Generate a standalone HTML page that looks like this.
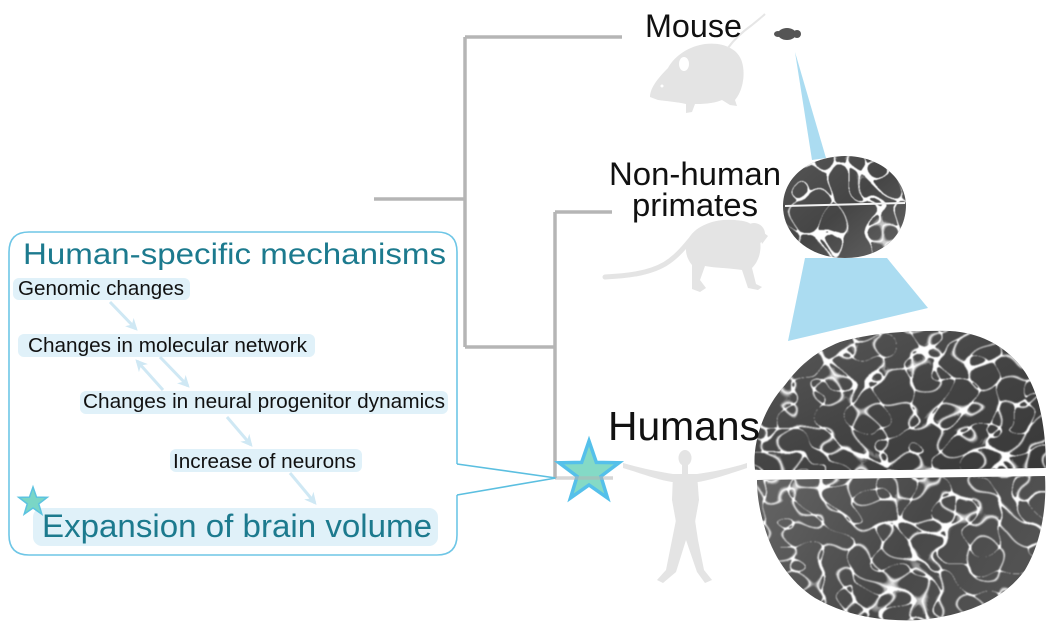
<!DOCTYPE html>
<html><head><meta charset="utf-8"><style>
html,body{margin:0;padding:0;background:#fff;}
svg{display:block;}
text{font-family:"Liberation Sans",Arial,sans-serif;}
</style></head><body>
<svg width="1063" height="638" viewBox="0 0 1063 638" xmlns="http://www.w3.org/2000/svg">
<defs>
<marker id="ah" viewBox="0 0 10 10" refX="8" refY="5" markerWidth="4" markerHeight="4" orient="auto"><path d="M0,0 L10,5 L0,10 L3,5 Z" fill="#cfe8f4"/></marker>
<linearGradient id="bg1" x1="0" y1="0" x2="1" y2="1">
<stop offset="0" stop-color="#5a5a5a"/><stop offset="0.5" stop-color="#444"/><stop offset="1" stop-color="#383838"/>
</linearGradient>
<linearGradient id="bg2" x1="0" y1="0" x2="1" y2="0.3">
<stop offset="0" stop-color="#666"/><stop offset="0.6" stop-color="#484848"/><stop offset="1" stop-color="#525252"/>
</linearGradient>
<linearGradient id="bg3" x1="0" y1="0" x2="1" y2="1">
<stop offset="0" stop-color="#555"/><stop offset="0.5" stop-color="#454545"/><stop offset="1" stop-color="#666"/>
</linearGradient>
<filter id="tex1" filterUnits="userSpaceOnUse" x="740" y="320" width="320" height="310" color-interpolation-filters="sRGB">
<feTurbulence type="turbulence" baseFrequency="0.034 0.042" numOctaves="1" seed="4" result="t"/>
<feColorMatrix in="t" type="matrix" values="0 0 0 0 1  0 0 0 0 1  0 0 0 0 1  -20 0 0 0 1.0" result="w"/>
<feGaussianBlur in="w" stdDeviation="0.8" result="wb"/>
<feComposite in="wb" in2="SourceAlpha" operator="in" result="wc"/>
<feMerge><feMergeNode in="SourceGraphic"/><feMergeNode in="wc"/></feMerge>
</filter>
<filter id="tex2" filterUnits="userSpaceOnUse" x="775" y="150" width="140" height="115" color-interpolation-filters="sRGB">
<feTurbulence type="turbulence" baseFrequency="0.03" numOctaves="1" seed="9" result="t"/>
<feColorMatrix in="t" type="matrix" values="0 0 0 0 1  0 0 0 0 1  0 0 0 0 1  -32 0 0 0 1.0" result="w"/>
<feGaussianBlur in="w" stdDeviation="0.4" result="wb"/>
<feComposite in="wb" in2="SourceAlpha" operator="in" result="wc"/>
<feMerge><feMergeNode in="SourceGraphic"/><feMergeNode in="wc"/></feMerge>
</filter>
</defs>

<!-- tree -->
<g stroke="#b5b5b5" stroke-width="3.5" fill="none">
<path d="M374,199 H465"/>
<path d="M465,37 V347"/>
<path d="M465,37 H622"/>
<path d="M465,347 H555"/>
<path d="M555,212 V478"/>
<path d="M555,212 H612"/>
</g>

<!-- silhouettes -->
<g fill="#e4e4e4">
<path d="M650,97 C650,88 658,78 668,68 C675,55 690,46 705,44 C722,42 738,48 742,62 C746,76 742,92 735,100 L737,106 L730,105 L722,100 C712,104 702,104 695,104 L692,112 L686,113 L686,104 C677,102 665,101 658,100 Z"/>
<path d="M728,48 C735,38 745,30 752,25 C758,20 762,17 765,14" fill="none" stroke="#e6e6e6" stroke-width="2"/>
<ellipse cx="684" cy="64" rx="5" ry="7" fill="#fff"/>
<circle cx="662" cy="86" r="1.5" fill="#fff"/>

<path d="M605,277 C625,276 648,274 665,264 C678,256 686,245 692,238" fill="none" stroke="#e4e4e4" stroke-width="5" stroke-linecap="round"/>
<path d="M688,240 C694,226 715,218 735,220 C745,221 750,222 752,226 L760,240 C762,252 758,262 752,268 L756,284 L762,287 L758,290 L748,288 L742,270 C730,268 715,268 705,266 L700,280 L706,288 L700,292 L692,289 L692,265 C686,258 684,248 688,240 Z"/>
<circle cx="754" cy="234" r="11"/>
<path d="M758,228 L768,236 L762,244 Z"/>

<ellipse cx="685" cy="458" rx="6.5" ry="8"/>
<rect x="682" y="463" width="6" height="12"/>
<path d="M623,463 C640,468 660,472 673,474 L697,474 C712,472 732,468 747,463 L747,468 C732,473 712,480 698,482 L672,482 C658,480 640,473 623,468 Z"/>
<path d="M673,474 L697,474 L699,500 L695,522 L676,522 L672,500 Z"/>
<path d="M676,520 L695,520 L698,540 L704,570 L712,580 L705,583 L697,572 L686,540 L676,572 L663,583 L657,580 L666,570 L672,540 Z"/>
</g>

<!-- blue projection shapes -->
<polygon points="795,52 812,160 826,158" fill="#abdcf1"/>
<polygon points="805,258 887,258 928,308 788,341" fill="#abdcf1"/>

<!-- mouse brain -->
<g fill="#555">
<ellipse cx="787" cy="34" rx="9" ry="6"/>
<ellipse cx="778" cy="34" rx="4" ry="3"/>
<ellipse cx="797" cy="34" rx="4" ry="4"/>
</g>

<!-- NHP brain -->
<g filter="url(#tex2)">
<path d="M783,206 C783,180 805,157 845,156 C880,156 905,178 906,205 C906,235 882,258 845,258 C808,258 783,234 783,206 Z" fill="url(#bg3)"/>
</g>
<path d="M785,206 C820,205 860,204 905,203" stroke="#f2f2f2" stroke-width="2" fill="none"/>

<!-- human brain -->
<g filter="url(#tex1)">
<path d="M755,470 C752,445 762,410 785,385 C800,365 815,352 840,342 C870,333 910,330 950,331 C985,333 1010,350 1025,372 C1040,395 1046,430 1046,468 L900,470 Z" fill="url(#bg1)"/>
<path d="M757,480 L1045,476 C1047,510 1040,545 1025,570 C1005,598 970,615 920,620 C880,622 845,615 815,598 C790,582 772,555 764,525 C758,505 757,490 757,480 Z" fill="url(#bg2)"/>
</g>

<!-- labels -->
<g fill="#111">
<text x="645" y="37" font-size="32.5" textLength="97" lengthAdjust="spacingAndGlyphs">Mouse</text>
<text x="609" y="185" font-size="32" textLength="172" lengthAdjust="spacingAndGlyphs">Non-human</text>
<text x="632" y="216" font-size="32" textLength="126" lengthAdjust="spacingAndGlyphs">primates</text>
<text x="608" y="440" font-size="40.5" textLength="152" lengthAdjust="spacingAndGlyphs">Humans</text>
</g>

<!-- box -->
<path d="M457,464 L457,252 Q457,232 437,232 L29,232 Q9,232 9,252 L9,535 Q9,555 29,555 L437,555 Q457,555 457,535 L457,495" fill="none" stroke="#6ec6e6" stroke-width="1.6"/>
<path d="M457,464 L556,478 L457,495" fill="none" stroke="#5bbfe0" stroke-width="1.6"/>

<!-- highlights -->
<g fill="#e0f1f9">
<rect x="13" y="278" width="177" height="22" rx="6"/>
<rect x="18" y="334" width="297" height="23" rx="6"/>
<rect x="80" y="391" width="368" height="23" rx="6"/>
<rect x="170" y="449" width="192" height="23" rx="6"/>
<rect x="33" y="508" width="405" height="38" rx="9"/>
</g>

<!-- arrows -->
<g stroke="#cfe8f4" stroke-width="3" marker-end="url(#ah)" fill="none">
<path d="M110,302 L136,329"/>
<path d="M160,357 L188,386"/>
<path d="M163,390 L137,361"/>
<path d="M227,417 L251,445"/>
<path d="M290,473 L315,503"/>
</g>

<text x="23" y="264" font-size="30" fill="#1c7a8e" textLength="423" lengthAdjust="spacingAndGlyphs">Human-specific mechanisms</text>
<g fill="#111" font-size="20.5">
<text x="18" y="295" textLength="166" lengthAdjust="spacingAndGlyphs">Genomic changes</text>
<text x="28" y="352" textLength="279" lengthAdjust="spacingAndGlyphs">Changes in molecular network</text>
<text x="83" y="408" textLength="362" lengthAdjust="spacingAndGlyphs">Changes in neural progenitor dynamics</text>
<text x="173" y="468" textLength="183" lengthAdjust="spacingAndGlyphs">Increase of neurons</text>
</g>
<text x="42" y="537" font-size="32" fill="#1c7a8e" textLength="390" lengthAdjust="spacingAndGlyphs">Expansion of brain volume</text>

<!-- stars -->
<path d="M33,487 L36.53,497.15 L47.27,497.36 L38.71,503.85 L41.82,514.14 L33,508 L24.18,514.14 L27.29,503.85 L18.73,497.36 L29.47,497.15 Z" fill="#7ad6c6" stroke="#5cc3e0" stroke-width="1.5" stroke-linejoin="miter"/>
<path d="M589,441 L596.35,462.39 L618.96,462.77 L600.89,476.36 L607.52,497.98 L589,485 L570.48,497.98 L577.11,476.36 L559.04,462.77 L581.65,462.39 Z" fill="#84dac6" stroke="#55c0ea" stroke-width="3.5" stroke-linejoin="miter"/>
<path d="M555,478 H613" stroke="#b5b5b5" stroke-width="3.5" opacity="0.55"/>
</svg>
</body></html>
